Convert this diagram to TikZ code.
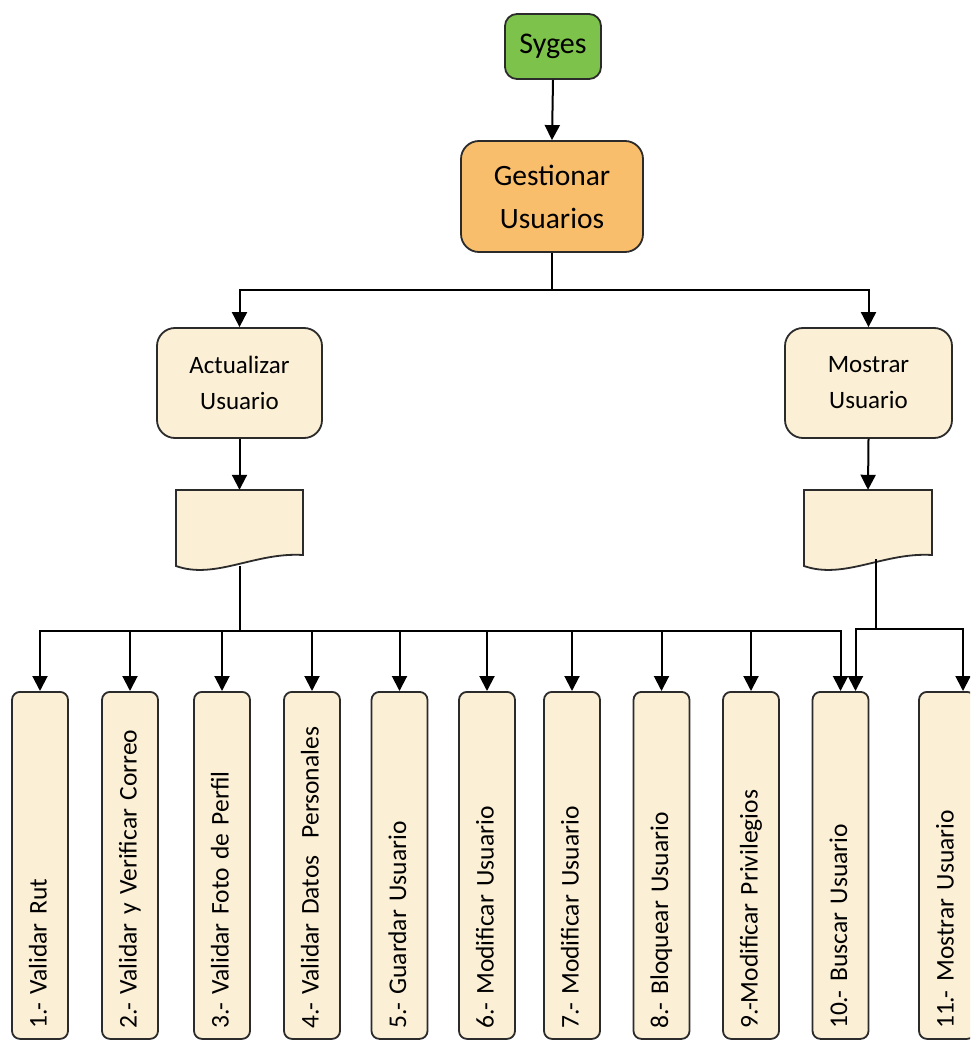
\documentclass[tikz,border=0pt]{standalone}
\usepackage{fontspec}
\setmainfont{Carlito}
\usetikzlibrary{arrows.meta,calc}
\definecolor{sygreen}{HTML}{7DC24A}
\definecolor{orangebox}{HTML}{F9BE6B}
\definecolor{creambox}{HTML}{FBEFD5}
\definecolor{edge}{HTML}{2B2B2B}
\newcommand\myvboxfont{\fontsize{25.5}{30}\selectfont\spaceskip=5.1pt plus 1pt\relax}
\tikzset{
  arr/.style={line width=2pt, draw=black, -{Triangle[width=15pt,length=15pt]}},
  conn/.style={line width=2pt, draw=black},
  topbox/.style={draw=edge, line width=1.8pt, rounded corners=14pt, inner sep=0pt, align=center},
  vbox/.style={draw=edge, line width=1.8pt, fill=creambox, rounded corners=8pt, rotate=90,
     anchor=east, inner xsep=10pt, inner ysep=0pt, text width=327pt, align=left,
     minimum height=56pt, text height=18pt, text depth=5pt,
     font=\myvboxfont},
  docshape/.style={draw=edge, line width=1.8pt, fill=creambox}
}
\begin{document}
\begin{tikzpicture}[x=1pt,y=1pt]
\useasboundingbox (0,0) rectangle (970,-1040);
\clip (0,0) rectangle (970,-1040);
% top nodes
\node[topbox, fill=sygreen, minimum width=96pt, minimum height=65pt, rounded corners=12pt,
  font=\fontsize{30}{34}\selectfont] (syges) at (553,-46.5) {Syges};
\node[topbox, fill=orangebox, minimum width=182pt, minimum height=111pt, rounded corners=18pt,
  font=\fontsize{29.5}{43}\selectfont] (gest) at (552,-196.5) {Gestionar\\Usuarios};
\node[topbox, fill=creambox, minimum width=165pt, minimum height=110pt, rounded corners=18pt,
  font=\fontsize{25}{36}\selectfont] (act) at (239.5,-383) {Actualizar\\Usuario};
\node[topbox, fill=creambox, minimum width=167pt, minimum height=110pt, rounded corners=18pt,
  font=\fontsize{25}{36}\selectfont] (mos) at (868.5,-383) {Mostrar\\Usuario};
% document shapes
\node[inner sep=0pt, minimum width=127pt, minimum height=76pt] (doc1) at (239.5,-528) {};
\node[inner sep=0pt, minimum width=128pt, minimum height=76pt] (doc2) at (868,-528) {};
\draw[docshape] (176,-490) -- (303,-490) -- (303,-555)
  .. controls (255,-552) and (215,-580) .. (176,-566) -- cycle;
\draw[docshape] (804,-490) -- (932,-490) -- (932,-555)
  .. controls (884,-552) and (844,-580) .. (804,-566) -- cycle;
% bottom boxes
\node[vbox] (b1) at (40,-691) {1.- Validar Rut};
\node[vbox] (b2) at (130,-691) {2.- Validar y Verificar Correo};
\node[vbox] (b3) at (222,-691) {3.- Validar Foto de Perfil};
\node[vbox] (b4) at (312,-691) {4.- Validar Datos\ \ Personales};
\node[vbox] (b5) at (399.5,-691) {5.- Guardar Usuario};
\node[vbox] (b6) at (487,-691) {6.- Modificar Usuario};
\node[vbox] (b7) at (572,-691) {7.- Modificar Usuario};
\node[vbox] (b8) at (661.5,-691) {8.- Bloquear Usuario};
\node[vbox] (b9) at (751,-691) {9.-Modificar Privilegios};
\node[vbox] (b10) at (840.5,-691) {10.- Buscar Usuario};
\node[vbox] (b11) at (947,-691) {11.- Mostrar Usuario};
% connectors
\draw[arr] (syges.south) -- (gest.north);
\coordinate (busT) at (552,-290);
\draw[conn] (gest.south) -- (busT);
\draw[arr] (busT) -| (act.north);
\draw[arr] (busT) -| (mos.north);
\draw[arr] (act.south) -- (doc1.north);
\draw[arr] (mos.south) -- (doc2.north);
\coordinate (busL) at (240,-631);
\coordinate (busR) at (876,-629);
\draw[conn] (240,-566) -- (busL);
\draw[conn] (876,-559) -- (busR);
\foreach \b in {b1,b2,b3,b4,b5,b6,b7,b8,b9,b10}{
  \draw[arr] (busL) -| (\b.east);
}
\draw[arr] (busR) -| ($(b10.east)+(15,0)$);
\draw[arr] (busR) -| ($(b11.east)+(16,0)$);
\end{tikzpicture}
\end{document}
